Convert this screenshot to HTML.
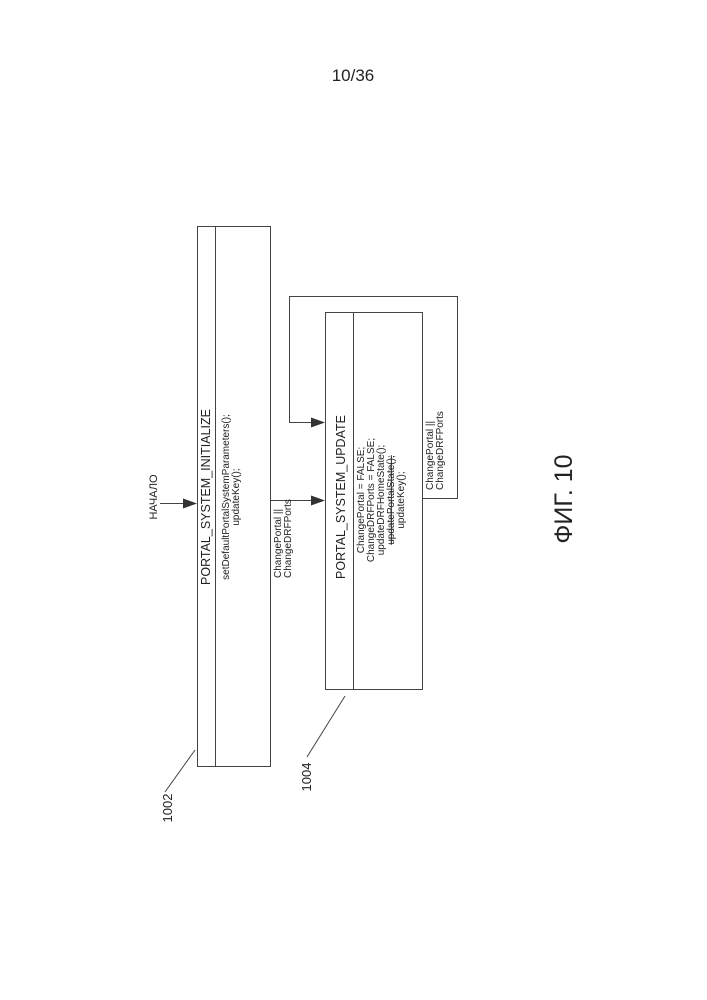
<!DOCTYPE html>
<html><head><meta charset="utf-8"><style>
html,body{margin:0;padding:0;background:#fff}
svg{display:block}
text{font-family:"Liberation Sans",sans-serif;fill:#222}
</style></head><body>
<svg width="707" height="1000" viewBox="0 0 707 1000" xmlns="http://www.w3.org/2000/svg">
<text x="353" y="81" font-size="17" text-anchor="middle">10/36</text>
<g stroke="#444" stroke-width="1" fill="none">
<rect x="197.5" y="226.5" width="73" height="540"/>
<line x1="215.5" y1="226" x2="215.5" y2="767"/>
<rect x="325.5" y="312.5" width="97" height="377"/>
<line x1="353.5" y1="312" x2="353.5" y2="690"/>
<polyline points="422,498.5 457.5,498.5 457.5,296.5 289.5,296.5 289.5,422.5 312,422.5"/>
<line x1="270" y1="500.5" x2="312" y2="500.5"/>
<line x1="160" y1="503.5" x2="184" y2="503.5"/>
<line x1="165" y1="792" x2="195" y2="750"/>
<line x1="307" y1="757" x2="345" y2="696"/>
</g>
<g fill="#333">
<polygon points="325,422.5 311,417.5 311,427.5"/>
<polygon points="325,500.5 311,495.5 311,505.5"/>
<polygon points="197,503.5 183,498.5 183,508.5"/>
</g>
<g font-size="12.5">
<text transform="translate(157,497) rotate(-90)" text-anchor="middle" font-size="11">НАЧАЛО</text>
<text transform="translate(210,497) rotate(-90)" text-anchor="middle">PORTAL_SYSTEM_INITIALIZE</text>
<text transform="translate(345,497) rotate(-90)" text-anchor="middle">PORTAL_SYSTEM_UPDATE</text>
<text transform="translate(172,808) rotate(-90)" text-anchor="middle" font-size="13">1002</text>
<text transform="translate(311,777) rotate(-90)" text-anchor="middle" font-size="13">1004</text>
</g>
<g font-size="10">
<text transform="translate(229,497) rotate(-90)" text-anchor="middle">setDefaultPortalSystemParameters();</text>
<text transform="translate(239,497) rotate(-90)" text-anchor="middle">updateKey();</text>
<text transform="translate(364,500) rotate(-90)" text-anchor="middle">ChangePortal = FALSE;</text>
<text transform="translate(374,500) rotate(-90)" text-anchor="middle">ChangeDRFPorts = FALSE;</text>
<text transform="translate(384,500) rotate(-90)" text-anchor="middle">updateDRFHomeState();</text>
<text transform="translate(394,500) rotate(-90)" text-anchor="middle" text-decoration="line-through" fill="#777">updatePortalState();</text>
<text transform="translate(404,500) rotate(-90)" text-anchor="middle">updateKey();</text>
<text transform="translate(433,490) rotate(-90)">ChangePortal ||</text>
<text transform="translate(443,490) rotate(-90)">ChangeDRFPorts</text>
<text transform="translate(281,578) rotate(-90)">ChangePortal ||</text>
<text transform="translate(291,578) rotate(-90)">ChangeDRFPorts</text>
</g>
<text transform="translate(572,499) rotate(-90)" text-anchor="middle" font-size="25">ФИГ. 10</text>
</svg>
</body></html>
